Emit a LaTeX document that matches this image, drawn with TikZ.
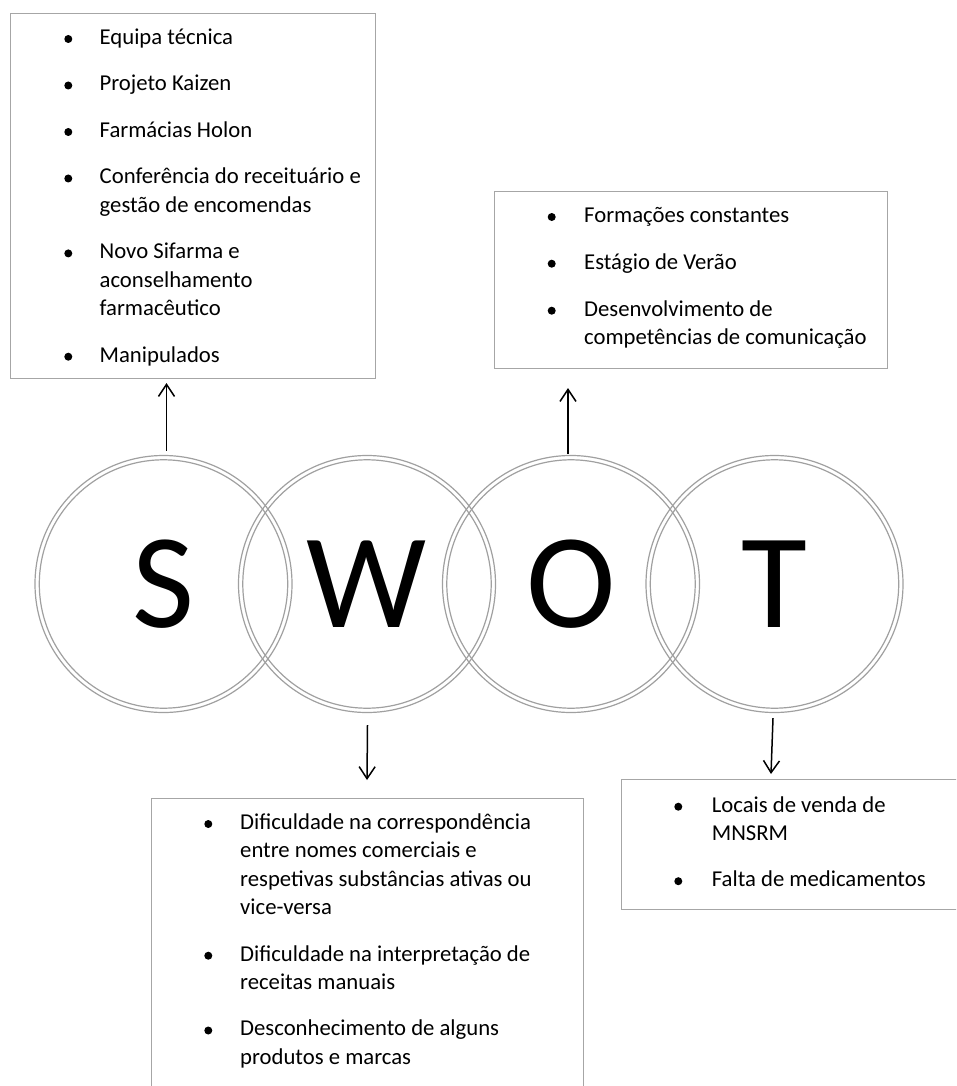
\documentclass[tikz,border=0pt]{standalone}
\usepackage{fontspec}
\setmainfont{Carlito}
\usetikzlibrary{arrows.meta,calc}
\definecolor{ringgray}{HTML}{A0A0A0}
\definecolor{boxgray}{HTML}{A6A6A6}
\begin{document}
\begin{tikzpicture}[x=1pt,y=-1pt,
  ring/.style={circle, draw=ringgray, line width=1.2pt, minimum size=257pt, inner sep=0pt, font=\fontsize{135}{140}\selectfont},
  inring/.style={draw=ringgray, line width=1.2pt},
  panel/.style={draw=boxgray, line width=1.1pt, inner sep=0pt, anchor=north west},
  txt/.style={anchor=base west, inner sep=0pt, font=\fontsize{22.7}{28.4}\selectfont},
  arr/.style={-{Straight Barb[length=12pt,width=16pt]}, line width=1.5pt, black}]
\useasboundingbox (0,0) rectangle (956,1086);
\clip (0,0) rectangle (956,1086);

% rings
\node[ring] (S) at (163.5,584) {S};
\node[ring] (W) at (367,584) {W};
\node[ring] (O) at (571,584) {O};
\node[ring] (T) at (774.5,584) {T};
\foreach \c in {S,W,O,T}{\draw[inring] (\c.center) circle (124.2pt);}

% boxes
\node[panel, minimum width=365pt, minimum height=365pt] (sbox) at (10,13) {};
\node[panel, minimum width=393pt, minimum height=177pt] (obox) at (494,191) {};
\node[panel, minimum width=432pt, minimum height=330pt] (wbox) at (151,798) {};
\node[panel, minimum width=350pt, minimum height=130pt] (tbox) at (621,779) {};

% S list
\foreach \y in {44.3,90.8,137.3,183.8,258.7,362}{\fill (68.3,\y-5.3) circle (4pt);}
\node[txt] (s1) at (99.5,44.3) {Equipa técnica};
\node[txt] (s2) at (99.5,90.8) {Projeto Kaizen};
\node[txt] (s3) at (99.5,137.3) {Farmácias Holon};
\node[txt] (s4a) at (99.5,183.8) {Conferência do receituário e};
\node[txt] (s4b) at (99.5,212.2) {gestão de encomendas};
\node[txt] (s5a) at (99.5,258.7) {Novo Sifarma e};
\node[txt] (s5b) at (99.5,287.1) {aconselhamento};
\node[txt] (s5c) at (99.5,315.5) {farmacêutico};
\node[txt] (s6) at (99.5,362) {Manipulados};

% O list
\foreach \y in {222.3,269,316}{\fill (551.7,\y-5.3) circle (4pt);}
\node[txt] (o1) at (584,222.3) {Formações constantes};
\node[txt] (o2) at (584,269) {Estágio de Verão};
\node[txt] (o3a) at (584,316) {Desenvolvimento de};
\node[txt] (o3b) at (584,344.4) {competências de comunicação};

% W list
\foreach \y in {829.3,961,1035.8}{\fill (208.3,\y-5.3) circle (4pt);}
\node[txt] (w1a) at (240,829.3) {Dificuldade na correspondência};
\node[txt] (w1b) at (240,857.6) {entre nomes comerciais e};
\node[txt] (w1c) at (240,886) {respetivas substâncias ativas ou};
\node[txt] (w1d) at (240,914.3) {vice-versa};
\node[txt] (w2a) at (240,961) {Dificuldade na interpretação de};
\node[txt] (w2b) at (240,989.3) {receitas manuais};
\node[txt] (w3a) at (240,1035.8) {Desconhecimento de alguns};
\node[txt] (w3b) at (240,1064) {produtos e marcas};

% T list
\foreach \y in {812,886.5}{\fill (678.3,\y-5.3) circle (4pt);}
\node[txt] (t1a) at (711.7,812) {Locais de venda de};
\node[txt] (t1b) at (711.7,840.4) {MNSRM};
\node[txt] (t2) at (711.7,886.5) {Falta de medicamentos};

% arrows
\draw[arr] ($(S.north)+(3,-4)$) -- ($(S.north |- sbox.south)+(3,4)$);
\draw[arr] ($(O.north)+(-3,-1)$) -- ($(O.north |- obox.south)+(-3,19)$);
\draw[arr] ($(W.south)+(0.5,12)$) -- ($(W.south |- wbox.north)+(0,-18)$);
\draw[arr] ($(T.south)+(-1.5,5)$) -- ($(T.south |- tbox.north)+(-3.5,-5)$);
\end{tikzpicture}
\end{document}
